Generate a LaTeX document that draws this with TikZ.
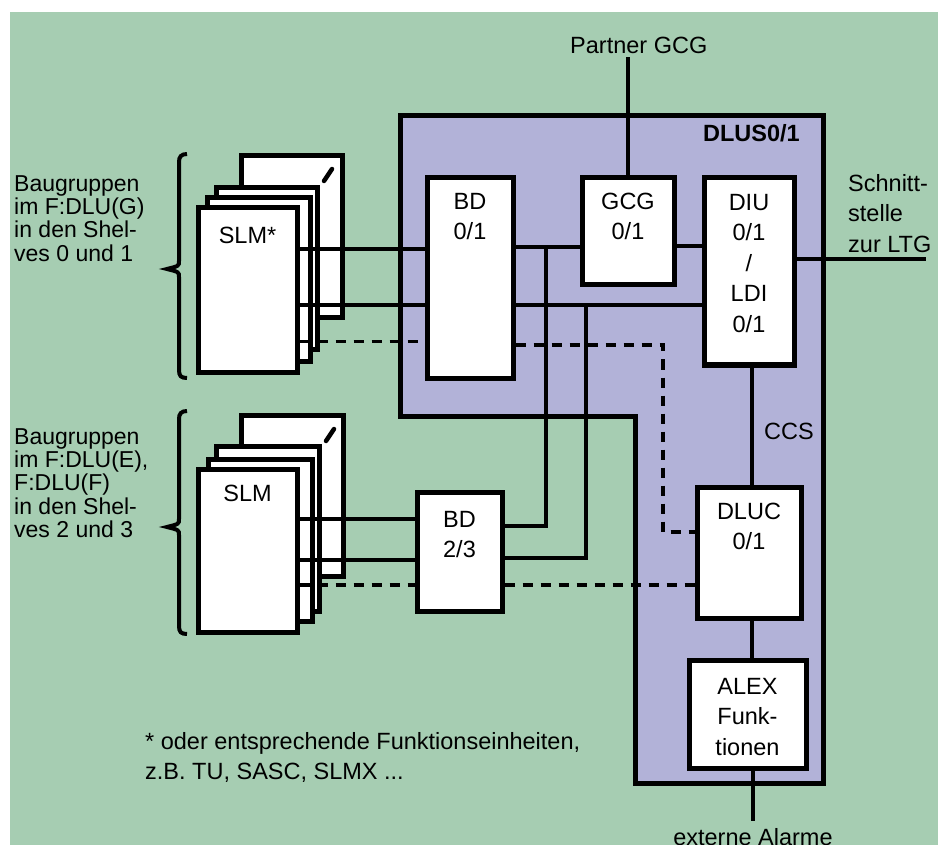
\documentclass[tikz,border=0pt]{standalone}
\usepackage{fontspec}
\setmainfont{Liberation Sans}
\definecolor{bggreen}{RGB}{166,205,178}
\definecolor{dluscol}{RGB}{178,178,216}
\newcommand{\tp}{\rule{0pt}{20pt}}
\tikzset{
  box/.style={draw=black, fill=white, line width=5pt, inner sep=0pt},
  card/.style={draw=black, fill=white, line width=5pt, inner sep=0pt},
  conn/.style={line width=4.5pt},
  connthin/.style={line width=3.5pt},
  dashline/.style={line width=3.5pt, dash pattern=on 10pt off 8pt},
  brc/.style={line width=4pt},
  lbl/.style={font=\fontsize{23.5}{30.5}\selectfont, align=center, inner sep=0pt, anchor=north},
  lblside/.style={font=\fontsize{23}{23.3}\selectfont, align=left, inner sep=0pt, anchor=north west},
  lblfree/.style={font=\fontsize{23.5}{30.5}\selectfont, align=left, inner sep=0pt, anchor=north west},
  freetext/.style={font=\fontsize{23.5}{28}\selectfont, inner sep=0pt},
}
\begin{document}
\begin{tikzpicture}[x=1pt,y=-1pt]
\useasboundingbox (0,0) rectangle (938,845);
\fill[bggreen] (10,12) rectangle (938,845);
% DLUS area
\filldraw[fill=dluscol, draw=black, line width=5pt, line join=miter]
  (400,116) -- (823,116) -- (823,783) -- (635,783) -- (635,416) -- (400,416) -- cycle;
\node[font=\fontsize{23.5}{28}\selectfont\bfseries, anchor=base east, inner sep=0pt] (dlus) at (800,142) {DLUS0/1};

% upper SLM stack
\node[card, minimum width=101pt, minimum height=162pt] (ua) at (291.5,237) {};
\node[card, minimum width=101pt, minimum height=162pt] (ub) at (266.5,269) {};
\node[card, minimum width=103pt, minimum height=164pt] (uc) at (258.5,280) {};
\node[card, minimum width=99pt, minimum height=164pt] (slmA) at (247.5,290) {};
\draw[line width=4.5pt, line cap=round] (324,181) -- (332,169);
\node[lbl] (slmAt) at (247.5,223) {\tp SLM*};

% lower SLM stack
\node[card, minimum width=102pt, minimum height=161pt] (la) at (292.75,495.5) {};
\node[card, minimum width=103pt, minimum height=165pt] (lb) at (267.5,528.5) {};
\node[card, minimum width=104pt, minimum height=162pt] (lc) at (260,540) {};
\node[card, minimum width=99pt, minimum height=163pt] (slmB) at (247.5,550.5) {};
\draw[line width=4.5pt, line cap=round] (326,441) -- (334,429);
\node[lbl] (slmBt) at (247.5,481) {\tp SLM};

% boxes
\node[box, minimum width=86pt, minimum height=200pt] (bd01) at (470,278) {};
\node[box, minimum width=92pt, minimum height=107pt] (gcg) at (628,231.5) {};
\node[box, minimum width=90pt, minimum height=187pt] (diu) at (749,271.5) {};
\node[box, minimum width=85pt, minimum height=119pt] (bd23) at (459.5,551.5) {};
\node[box, minimum width=104pt, minimum height=131pt] (dluc) at (749,552.5) {};
\node[box, minimum width=117pt, minimum height=108pt] (alex) at (747.5,714) {};

\node[lbl] (bd01t) at (470,189) {\tp BD\\0/1};
\node[lbl] (gcgt) at (628,189) {\tp GCG\\0/1};
\node[lbl] (diut) at (749,190) {\tp DIU\\0/1\\/\\LDI\\0/1};
\node[lbl] (bd23t) at (459.5,507) {\tp BD\\2/3};
\node[lbl] (dluct) at (749,499) {\tp DLUC\\0/1};
\node[lbl] (alext) at (747.5,674) {\tp ALEX\\Funk-\\tionen};

% outer coordinates
\coordinate (pgcg) at (628,57);
\coordinate (ltg) at (926,259);
\coordinate (ext) at (753,821);

% connectors upper SLM -> BD 0/1
\draw[connthin] (slmA.east |- 0,249) -- (bd01.west |- 0,249);
\draw[conn] (slmA.east |- 0,305) -- (bd01.west |- 0,305);
\draw[dashline] (slmA.east |- 0,341.5) -- (bd01.west |- 0,341.5);
% lower SLM -> BD 2/3
\draw[conn] (slmB.east |- 0,519) -- (bd23.west |- 0,519);
\draw[connthin] (slmB.east |- 0,560) -- (bd23.west |- 0,560);
\draw[dashline] (slmB.east |- 0,585) -- (bd23.west |- 0,585);
% BD 0/1 -> GCG, DIU
\draw[conn] (bd01.east |- 0,247) -- (gcg.west |- 0,247);
\draw[conn] (bd01.east |- 0,305) -- (diu.west |- 0,305);
\draw[conn] (gcg.east |- 0,246) -- (diu.west |- 0,246);
% BD 2/3 -> up
\draw[conn] (bd23.east |- 0,526) -| (546,247);
\draw[conn] (bd23.east |- 0,558) -| (586,305);
% dashed to DLUC
\draw[dashline] (bd01.east |- 0,345) -| (663,532) -- (dluc.west |- 0,532);
\draw[dashline] (bd23.east |- 0,585) -- (dluc.west |- 0,585);
% others
\draw[connthin] (gcg.north) -- (pgcg);
\draw[connthin] (diu.east |- 0,259) -- (ltg);
\draw[connthin] (diu.south -| 752,0) -- (dluc.north -| 752,0);
\draw[connthin] (dluc.south -| 752,0) -- (alex.north -| 752,0);
\draw[connthin] (alex.south -| 753,0) -- (ext);

% texts
\node[freetext, anchor=base west] (pgcgt) at (570,54) {Partner GCG};
\node[lblfree] (ltgt) at (848,171) {\tp Schnitt-\\stelle\\zur LTG};
\node[freetext, anchor=base] (ccs) at (789,439) {CCS};
\node[freetext, anchor=base] (extt) at (753,845) {externe Alarme};
\node[lblfree] (foot) at (145,729) {\tp * oder entsprechende Funktionseinheiten,\\z.B. TU, SASC, SLMX ...};
\node[lblside] (leftu) at (14,171) {\tp Baugruppen\\im F:DLU(G)\\in den Shel-\\ves 0 und 1};
\node[lblside] (leftl) at (14,424) {\tp Baugruppen\\im F:DLU(E),\\F:DLU(F)\\in den Shel-\\ves 2 und 3};

% braces
\draw[brc] (187,154) .. controls (181,154) and (179,157) .. (179,162) -- (179,261)
  .. controls (179,266) .. (167,269) .. controls (179,272) .. (179,277) -- (179,370)
  .. controls (179,376) and (181,378) .. (187,378);
\draw[brc] (187,411) .. controls (181,411) and (179,414) .. (179,419) -- (179,519)
  .. controls (179,524) .. (167,527) .. controls (179,530) .. (179,535) -- (179,626)
  .. controls (179,632) and (181,634) .. (187,634);
\end{tikzpicture}
\end{document}
